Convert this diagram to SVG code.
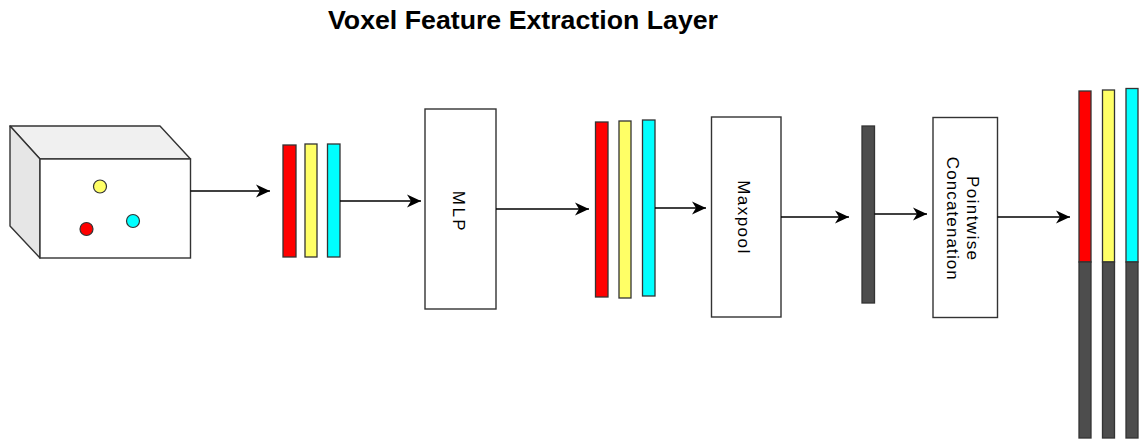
<svg xmlns="http://www.w3.org/2000/svg" width="1141" height="440" viewBox="0 0 1141 440">
  <style>
    .title { font-family: "Liberation Sans", Arial, sans-serif; font-weight: bold; font-size: 26px; fill: #000; }
    .lbl { font-family: "Liberation Sans", Arial, sans-serif; font-size: 17px; fill: #000; text-anchor: middle; }
    .box { fill: #ffffff; stroke: #333333; stroke-width: 1.4; }
    .bar { stroke: #333333; stroke-width: 1.3; }
    .red { fill: #ff0000; }
    .yel { fill: #ffff66; }
    .cya { fill: #00ffff; }
    .drk { fill: #4d4d4d; }
    .edge { fill: none; stroke: #000; stroke-width: 1.6; }
    .dot { stroke: #333333; stroke-width: 1.2; }
  </style>
  <defs>
    <marker id="arrow" markerUnits="userSpaceOnUse" markerWidth="15" markerHeight="14" refX="14" refY="7" orient="auto">
      <path d="M0,0.5 L14,7 L0,13.5 L4,7 Z" fill="#000"/>
    </marker>
  </defs>

  <rect width="1141" height="440" fill="#ffffff"/>

  <text class="title" x="328" y="29" textLength="390" lengthAdjust="spacingAndGlyphs">Voxel Feature Extraction Layer</text>

  <!-- voxel cube with points -->
  <g id="voxel">
    <polygon points="10,126 160,126 190.5,159 40,159" fill="#f0f0f0" stroke="#333333" stroke-width="1.4" stroke-linejoin="round"/>
    <polygon points="10,126 40,159 40,258 10,226" fill="#e6e6e6" stroke="#333333" stroke-width="1.4" stroke-linejoin="round"/>
    <rect x="40" y="159" width="150.5" height="99" class="box"/>
    <circle cx="100" cy="186.5" r="6.5" class="dot" fill="#ffff66"/>
    <circle cx="86.5" cy="229" r="6.5" class="dot" fill="#ff0000"/>
    <circle cx="133" cy="221" r="6.5" class="dot" fill="#00ffff"/>
  </g>

  <!-- point features -->
  <g id="features-in">
    <rect x="283" y="145" width="13" height="112" class="bar red"/>
    <rect x="305" y="144" width="12" height="113" class="bar yel"/>
    <rect x="327.5" y="144" width="12.5" height="113" class="bar cya"/>
  </g>

  <g id="mlp">
    <rect x="425" y="109" width="71" height="200" class="box"/>
    <text class="lbl" transform="translate(452.7,210.7) rotate(90)" textLength="40">MLP</text>
  </g>

  <!-- point-wise features -->
  <g id="features-mlp">
    <rect x="595.5" y="122" width="12.5" height="175" class="bar red"/>
    <rect x="619" y="121" width="12" height="177" class="bar yel"/>
    <rect x="642.5" y="120" width="12.5" height="176" class="bar cya"/>
  </g>

  <g id="maxpool">
    <rect x="711.5" y="117" width="69.5" height="200" class="box"/>
    <text class="lbl" transform="translate(738,216.7) rotate(90)" textLength="73">Maxpool</text>
  </g>

  <!-- aggregated feature -->
  <g id="aggregated">
    <rect x="862" y="126" width="12.5" height="177" class="bar drk"/>
  </g>

  <g id="concat">
    <rect x="933" y="117.5" width="64.5" height="200" class="box"/>
    <text class="lbl" transform="translate(967,218) rotate(90)" textLength="84">Pointwise</text>
    <text class="lbl" transform="translate(946.7,218.3) rotate(90)" textLength="123">Concatenation</text>
  </g>

  <!-- concatenated output features -->
  <g id="features-out">
    <rect x="1079" y="91" width="12" height="171" class="bar red"/>
    <rect x="1079" y="262" width="12" height="176" class="bar drk"/>
    <rect x="1102.5" y="90" width="12" height="172" class="bar yel"/>
    <rect x="1102.5" y="262" width="12" height="176" class="bar drk"/>
    <rect x="1126" y="88.5" width="12" height="173.5" class="bar cya"/>
    <rect x="1126" y="262" width="12" height="176" class="bar drk"/>
  </g>

  <g id="connectors">
    <path class="edge" d="M190.5,191 L270,191" marker-end="url(#arrow)"/>
    <path class="edge" d="M340,201 L421,201" marker-end="url(#arrow)"/>
    <path class="edge" d="M496,209 L589,209" marker-end="url(#arrow)"/>
    <path class="edge" d="M655,208 L706,208" marker-end="url(#arrow)"/>
    <path class="edge" d="M781,217 L849,217" marker-end="url(#arrow)"/>
    <path class="edge" d="M874.5,214 L927,214" marker-end="url(#arrow)"/>
    <path class="edge" d="M997.5,217 L1070,217" marker-end="url(#arrow)"/>
  </g>
</svg>
